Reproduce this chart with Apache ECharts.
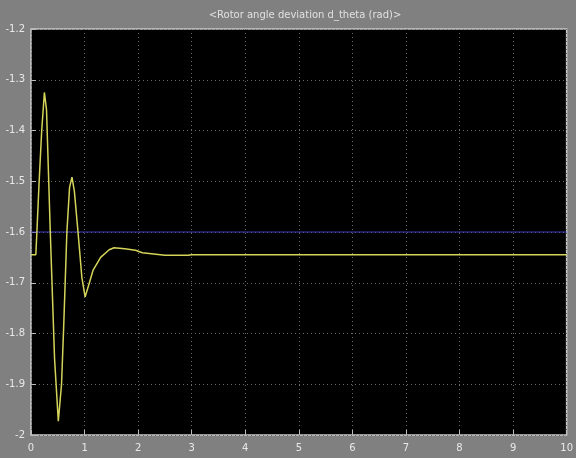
<!DOCTYPE html>
<html><head><meta charset="utf-8">
<script src="https://cdn.jsdelivr.net/npm/echarts@6/dist/echarts.min.js"></script>
<style>html,body{margin:0;padding:0;background:#fff}#c{width:576px;height:458px;background:#808080}</style>
</head><body><div id="c"></div>
<script>
const titleText = '<Rotor angle deviation d_theta (rad)>';
const timeS = [0, 0.09, 0.11, 0.15, 0.2, 0.25, 0.29, 0.36, 0.44, 0.51, 0.57, 0.61, 0.67, 0.72, 0.765, 0.81, 0.88, 0.95, 1.01, 1.09, 1.16, 1.3, 1.46, 1.55, 1.75, 1.95, 2.08, 2.5, 2.94, 3.0, 10];
const angle = [-1.645, -1.645, -1.60, -1.505, -1.40, -1.325, -1.36, -1.60, -1.85, -1.973, -1.90, -1.787, -1.60, -1.512, -1.492, -1.52, -1.603, -1.69, -1.728, -1.70, -1.675, -1.65, -1.635, -1.631, -1.633, -1.636, -1.641, -1.646, -1.646, -1.645, -1.645];
const refTime = [0, 10];
const refAngle = [-1.6, -1.6];
const xTicks = [0,1,2,3,4,5,6,7,8,9,10];
const yTicks = [-2,-1.9,-1.8,-1.7,-1.6,-1.5,-1.4,-1.3,-1.2];

const chart = echarts.init(document.getElementById('c'));
const lbl = {color:'#e8e8e8', fontSize:10, fontFamily:'DejaVu Sans'};
chart.setOption({
  animation:false,
  backgroundColor:'#808080',
  title:{text:titleText, left:300, top:5, textAlign:'center', textStyle:{color:'#e0e0e0', fontSize:10, fontWeight:'normal', fontFamily:'DejaVu Sans'}},
  grid:{left:31, right:6, top:29, bottom:23, backgroundColor:'#000', show:true, borderColor:'#c8c8c8', borderWidth:1.5},
  xAxis:{type:'value', min:xTicks[0], max:xTicks[xTicks.length-1], interval:1,
    axisLine:{show:false}, axisTick:{inside:true, length:5, lineStyle:{color:'#bbb'}},
    axisLabel:Object.assign({margin:8}, lbl),
    splitLine:{show:true, lineStyle:{color:'#6a6a6a', type:[1,3], width:1}}},
  yAxis:{type:'value', min:yTicks[0], max:yTicks[yTicks.length-1], interval:0.1,
    axisLine:{show:false}, axisTick:{inside:true, length:5, lineStyle:{color:'#bbb'}},
    axisLabel:Object.assign({margin:6, formatter:v=>String(+v.toFixed(1))}, lbl),
    splitLine:{show:true, lineStyle:{color:'#6a6a6a', type:[1,3], width:1}}},
  series:[
    {type:'line', data:refTime.map((t,i)=>[t,refAngle[i]]), symbol:'none', lineStyle:{color:'#3c3cb8', width:1.2}, silent:true},
    {type:'line', data:timeS.map((t,i)=>[t,angle[i]]), symbol:'none', lineStyle:{color:'#d4d45a', width:1.5}, silent:true}
  ]
});
</script></body></html>
